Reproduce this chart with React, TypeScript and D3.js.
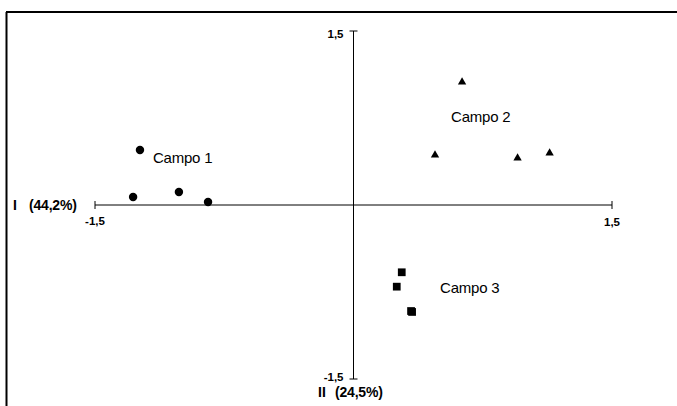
import React from "react";
import * as d3 from "d3";

const campo1X = [-1.239, -1.279, -1.013, -0.844];
const campo1Y = [0.474, 0.069, 0.112, 0.026];
const campo2X = [0.63, 0.473, 0.952, 1.138];
const campo2Y = [1.06, 0.431, 0.405, 0.448];
const campo3X = [0.28, 0.251, 0.334, 0.34];
const campo3Y = [-0.58, -0.704, -0.914, -0.922];
const groupLabels = ["Campo 1", "Campo 2", "Campo 3"];
const labelX = [-1.164, 0.566, 0.502];
const labelY = [0.397, 0.75, -0.724];
const tickLabels = ["-1,5", "1,5"];
const axisNames = ["I", "II"];
const axisPercents = ["(44,2%)", "(24,5%)"];

export default function App() {
  const W = 677, H = 406;
  const x = d3.scaleLinear().domain([-1.5, 1.5]).range([95, 612]);
  const y = d3.scaleLinear().domain([-1.5, 1.5]).range([379, 31]);
  const x0 = x(0), y0 = y(0);
  const font = "'Liberation Sans', Arial, sans-serif";
  const tri = d3.symbol().type(d3.symbolTriangle).size(30)();
  const sq = d3.symbol().type(d3.symbolSquare).size(60)();
  const circ = d3.symbol().type(d3.symbolCircle).size(56)();
  const mk = (xs: number[], ys: number[], path: string, k: string) =>
    xs.map((v, i) => (
      <path key={k + i} d={path} transform={`translate(${x(v)},${y(ys[i])})`} fill="#000" />
    ));
  return (
    <svg width={W} height={H} style={{ position: "absolute", left: 0, top: 0, background: "#fff" }} fontFamily={font}>
      <rect x={0} y={0} width={W} height={H} fill="#fff" />
      {/* frame */}
      <line x1={6} y1={12} x2={W} y2={12} stroke="#000" strokeWidth={2} />
      <line x1={6.5} y1={12} x2={6.5} y2={H} stroke="#000" strokeWidth={2} />
      {/* horizontal axis */}
      <line x1={x(-1.5)} y1={y0} x2={x(1.5)} y2={y0} stroke="#000" strokeWidth={1} />
      <line x1={x(-1.5)} y1={y0 - 4} x2={x(-1.5)} y2={y0 + 4} stroke="#000" />
      <line x1={x(1.5)} y1={y0 - 4} x2={x(1.5)} y2={y0 + 4} stroke="#000" />
      {/* vertical axis */}
      <line x1={x0} y1={y(1.5)} x2={x0} y2={y(-1.5)} stroke="#000" strokeWidth={1} />
      <line x1={x0 - 4} y1={y(1.5)} x2={x0 + 4} y2={y(1.5)} stroke="#000" />
      <line x1={x0 - 4} y1={y(-1.5)} x2={x0 + 4} y2={y(-1.5)} stroke="#000" />
      {/* tick labels */}
      <g fontSize={11.5} fontWeight="bold" fill="#000">
        <text x={x(-1.5)} y={y0 + 20} textAnchor="middle">{tickLabels[0]}</text>
        <text x={x(1.5)} y={y0 + 21} textAnchor="middle">{tickLabels[1]}</text>
        <text x={x0 - 10} y={y(1.5) + 7} textAnchor="end">{tickLabels[1]}</text>
        <text x={x0 - 10} y={y(-1.5) + 2} textAnchor="end">{tickLabels[0]}</text>
      </g>
      <g fontSize={14} fontWeight="bold" fill="#000">
        <text x={13} y={y0 + 5}>{axisNames[0]}</text>
        <text x={29} y={y0 + 5} letterSpacing={-0.2}>{axisPercents[0]}</text>
        <text x={318} y={y(-1.5) + 18}>{axisNames[1]}</text>
        <text x={335} y={y(-1.5) + 18} letterSpacing={-0.2}>{axisPercents[1]}</text>
      </g>
      {mk(campo1X, campo1Y, circ, "c")}
      {mk(campo2X, campo2Y, tri, "t")}
      {mk(campo3X, campo3Y, sq, "s")}
      <g fontSize={15} fill="#000">
        {groupLabels.map((g, i) => (
          <text key={g} x={x(labelX[i])} y={y(labelY[i])} dominantBaseline="middle" letterSpacing={-0.2}>{g}</text>
        ))}
      </g>
    </svg>
  );
}
